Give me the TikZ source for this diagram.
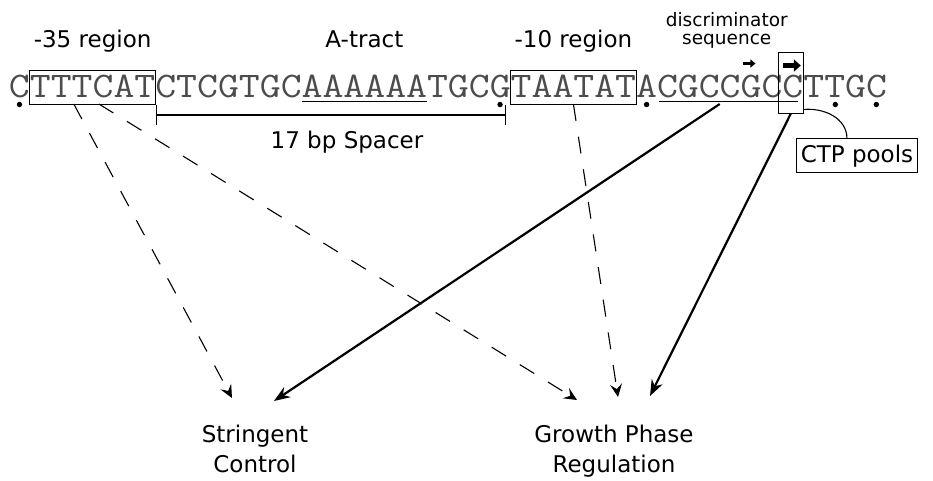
\documentclass[tikz,border=0pt]{standalone}
\usepackage{fontspec}
\setsansfont{DejaVu Sans}
\usetikzlibrary{arrows.meta, positioning, calc, fit}

\newcommand{\seqfont}{\ttfamily\fontsize{36}{40}\selectfont}
\newcommand{\sq}[1]{\scalebox{1.1275}[1]{#1}}

\begin{document}
\begin{tikzpicture}[
    x=1pt, y=1pt,
    seq/.style={font=\seqfont, text=black!70, inner sep=0pt, outer sep=0pt,
                text height=27pt, text depth=7pt},
    boxed/.style={seq, draw=black, line width=0.9pt},
    lbl/.style={font=\sffamily\fontsize{23}{30}\selectfont, inner sep=0pt},
    dep/.style={line width=1.1pt, dash pattern=on 17pt off 16pt,
                -{Stealth[length=13pt, width=12pt, inset=5pt]}},
    arr/.style={line width=2.2pt, -{Stealth[length=16pt, width=12pt]}},
    dot/.style={circle, fill, inner sep=0pt, minimum size=5.4pt},
    tssarr/.style={-{Triangle[length=7pt, width=12pt]}, line width=5.5pt},
    tsssmall/.style={-{Triangle[length=5pt, width=8pt]}, line width=3pt}
]
\useasboundingbox (0,0) rectangle (933,-480);

% promoter sequence
\node[seq, anchor=base west] (s0) at (9,-97) {\sq{C}};
\node[boxed, right=0pt of s0] (s1) {\sq{TTTCAT}};
\node[seq, right=0pt of s1] (s2) {\sq{CTCGTGC}};
\node[seq, right=0pt of s2] (s3) {\sq{AAAAAA}};
\node[seq, right=0pt of s3] (s4) {\sq{TGCG}};
\node[boxed, right=0pt of s4] (s5) {\sq{TAATAT}};
\node[seq, right=0pt of s5] (s6) {\sq{A}};
\node[seq, right=0pt of s6] (s7) {\sq{CGCCGC}};
\node[seq, right=0pt of s7] (s8) {\sq{C}};
\node[seq, right=0pt of s8] (s9) {\sq{TTGC}};

\draw[line width=0.9pt] ($(s3.base west)+(0,-4)$) -- ($(s3.base east)+(0,-4)$);
\draw[line width=0.9pt] ($(s7.base west)+(2,-4)$) -- ($(s8.base east)+(-5,-4)$);

% dots under the sequence
\node[dot] (m0) at ($(s0.base)+(0,-7.5)$) {};
\node[dot] (m1) at ($(s4.base east)+(-10.65,-7.5)$) {};
\node[dot] (m2) at ($(s6.base)+(0,-7.5)$) {};
\node[dot] (m3) at ($(s9.base west)+(31.95,-7.5)$) {};
\node[dot] (m4) at ($(s9.base east)+(-10.65,-7.5)$) {};

% start site
\node[draw, line width=0.9pt, inner sep=0pt,
      fit={($(s8.south west)+(-4,-9)$) ($(s8.north east)+(0,18)$)}] (tss) {};
\draw[tssarr] ($(tss.north west)+(5,-14)$) -- ($(tss.north east)+(-3,-14)$);
\draw[tsssmall] ($(s7.north east)+(-39,6.5)$) -- ++(12,0);

% spacer
\draw[{Bar[width=20pt]}-{Bar[width=20pt]}, line width=1.1pt]
    ($(s2.south west)+(1,-11)$) -- ($(s4.south east)+(-5,-11)$)
    node[lbl, midway, below=15pt, xshift=16pt] (spc) {17 bp Spacer};

% labels
\node[lbl, above=23pt of s1, anchor=base] (l35) {-35 region};
\node[lbl, above=23pt of s3, anchor=base] (latr) {A-tract};
\node[lbl, above=23pt of s5, anchor=base] (l10) {-10 region};
\node[lbl, font=\sffamily\fontsize{18.5}{18}\selectfont, align=center,
      above=21pt of s7, xshift=7pt] (ldis) {discriminator\\sequence};

\node[lbl, draw, line width=0.9pt, inner xsep=4.5pt, minimum height=34pt,
      below=25pt of tss.south east, anchor=north west, xshift=-8pt] (ctp) {CTP pools};
\draw[line width=1.1pt] ($(tss.south east)+(0,4)$) to[out=5, in=90] ($(ctp.north)+(-10,0)$);

\node[lbl, align=center, anchor=north] (sc) at (255,-425) {Stringent\\Control};
\node[lbl, align=center, anchor=north] (gp) at (614,-425) {Growth Phase\\Regulation};

\coordinate[above left=27pt and 23pt of sc.north] (sc-a);
\coordinate[above right=24pt and 19pt of sc.north] (sc-b);
\coordinate[above left=25pt and 37pt of gp.north] (gp-a);
\coordinate[above right=28pt and 4pt of gp.north] (gp-b);
\coordinate[above right=29pt and 36pt of gp.north] (gp-c);

% effects
\draw[dep] ($(s1.south west)!0.35!(s1.south east)$) -- (sc-a);
\draw[dep] ($(s1.south west)!0.55!(s1.south east)$) -- (gp-a);
\draw[dep] (s5.south) -- (gp-b);
\draw[arr] (s7.south) -- (sc-b);
\draw[arr] (tss.south) -- (gp-c);
\end{tikzpicture}
\end{document}
